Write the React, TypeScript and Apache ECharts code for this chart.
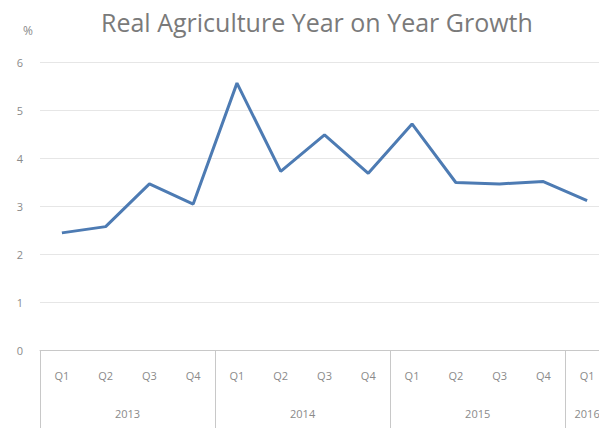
import React, { useEffect, useRef } from "react";
import * as echarts from "echarts";

const quarters = ["Q1", "Q2", "Q3", "Q4", "Q1", "Q2", "Q3", "Q4", "Q1", "Q2", "Q3", "Q4", "Q1"];
const growth = [2.44, 2.57, 3.46, 3.04, 5.56, 3.72, 4.48, 3.68, 4.71, 3.49, 3.46, 3.51, 3.11];
const yearLabels: Record<string, string> = { "1.5": "2013", "5.5": "2014", "9.5": "2015", "12": "2016" };
const yTicks = [0, 1, 2, 3, 4, 5, 6];

export default function App() {
  const ref = useRef<HTMLDivElement>(null);
  useEffect(() => {
    if (!ref.current) return;
    const chart = echarts.init(ref.current, null, { renderer: "svg" });
    const font = "'Open Sans', 'Liberation Sans', sans-serif";
    chart.setOption({
      animation: false,
      backgroundColor: "#ffffff",
      title: {
        text: "Real Agriculture Year on Year Growth",
        left: 96,
        top: 4,
        textStyle: { fontFamily: font, fontSize: 25, fontWeight: "normal", color: "#7a7a7a" },
      },
      graphic: [
        { type: "text", left: 23, top: 24, style: { text: "%", fontFamily: font, fontSize: 12, fill: "#8a8a8a" } },
      ],
      grid: { left: 40, right: 0, top: 62, bottom: 78, containLabel: false },
      xAxis: [
        {
          type: "category",
          data: quarters,
          boundaryGap: true,
          axisLine: { show: true, lineStyle: { color: "#c8c8c8", width: 1 } },
          axisTick: {
            show: true,
            interval: (index: number) => index % 4 === 0,
            length: 80,
            lineStyle: { color: "#c8c8c8", width: 1 },
          },
          axisLabel: { interval: 0, margin: 20, fontFamily: font, fontSize: 11, color: "#8a8a8a" },
          splitLine: { show: false },
        },
        {
          type: "value",
          position: "bottom",
          min: -0.5,
          max: 12.5,
          interval: 0.5,
          axisLine: { show: false },
          axisTick: { show: false },
          splitLine: { show: false },
          axisLabel: {
            margin: 58,
            showMinLabel: true,
            showMaxLabel: true,
            fontFamily: font,
            fontSize: 11,
            color: "#8a8a8a",
            formatter: (v: number) => yearLabels[String(v)] || "",
          },
        },
      ],
      yAxis: {
        type: "value",
        min: yTicks[0],
        max: yTicks[yTicks.length - 1],
        interval: 1,
        axisLine: { show: false },
        axisTick: { show: false },
        axisLabel: { margin: 20, fontFamily: font, fontSize: 11, color: "#8a8a8a", align: "center" },
        splitLine: { show: true, lineStyle: { color: "#e6e6e6", width: 1 } },
      },
      series: [
        {
          type: "line",
          data: growth,
          xAxisIndex: 0,
          showSymbol: false,
          symbol: "none",
          lineStyle: { color: "#4d7bb3", width: 3 },
          itemStyle: { color: "#4d7bb3" },
        },
      ],
    });
    return () => chart.dispose();
  }, []);
  return (
    <div style={{ position: "absolute", left: 0, top: 0, width: 599, height: 428, overflow: "hidden" }}>
      <div ref={ref} style={{ width: 612, height: 428 }} />
    </div>
  );
}
